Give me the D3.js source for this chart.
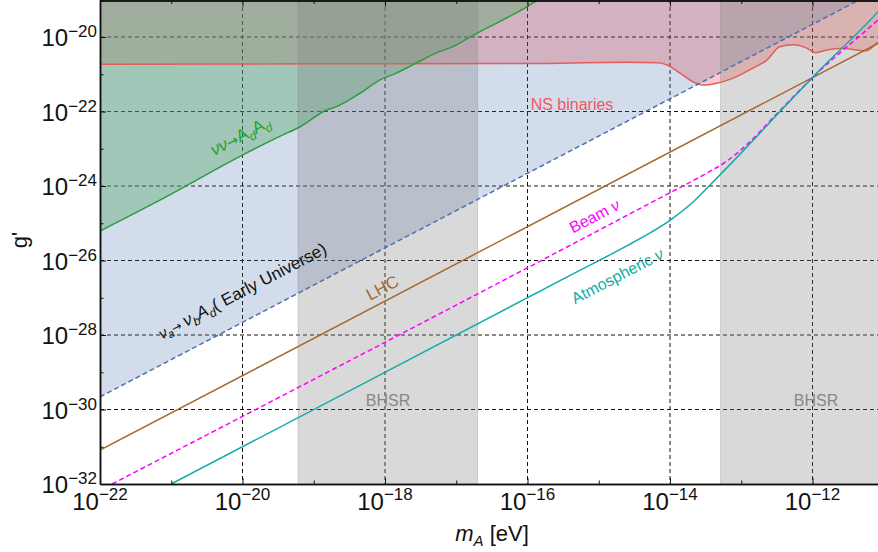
<!DOCTYPE html>
<html>
<head>
<meta charset="utf-8">
<script src="https://cdn.jsdelivr.net/npm/d3@7"></script>
<style>
body { margin: 0; background: #fff; }
text { font-family: "Liberation Sans", Arial, sans-serif; }
</style>
</head>
<body>
<svg id="chart" width="878" height="552"></svg>
<script>

// all values are log10 exponents: [log10 mA (eV), log10 g']
var nsBinaries = [[-22,-20.73],[-19,-20.72],[-16,-20.71],[-14.6,-20.68],[-14.18,-20.69],[-14.04,-20.75],[-13.86,-20.97],
	[-13.68,-21.20],[-13.54,-21.29],[-13.34,-21.24],[-13.12,-21.11],[-12.84,-20.84],[-12.64,-20.62],[-12.46,-20.26],
	[-12.27,-20.21],[-12.08,-20.30],[-11.96,-20.42],[-11.80,-20.35],[-11.57,-20.30],[-11.38,-20.35],[-11.24,-20.37],
	[-11.10,-20.17],[-11.0,-20.05]];
var earlyUniverse = [[-22,-29.66],[-11,-18.66]];
var nuNuAdAd = [[-22,-25.21],[-21.16,-24.38],[-20.0,-23.17],[-19.47,-22.66],[-19.19,-22.41],[-18.82,-21.96],
	[-18.68,-21.87],[-18.35,-21.51],[-18.07,-21.15],[-17.84,-20.97],[-17.61,-20.75],[-17.27,-20.42],[-17.05,-20.26],
	[-16.76,-19.95],[-16.62,-19.81],[-16.01,-19.19],[-15.85,-19.0],[-15.6,-18.75]];
var lhc = [[-22,-31.09],[-11,-20.09]];
var beamNu = [[-21.83,-32],[-14.19,-24.37],[-13.5,-23.67],[-13.2,-23.33],[-12.9,-22.85],[-12.5,-22.06],
	[-11.99,-21.07],[-11.08,-19.54],[-11.0,-19.4]];
var atmNu = [[-21.0,-32],[-15.26,-26.26],[-14.6,-25.6],[-14.3,-25.28],[-14.0,-24.92],[-13.7,-24.47],[-13.4,-23.9],
	[-12.92,-22.95],[-12.456,-22.0],[-11.94,-20.97],[-11.08,-19.32],[-11.0,-19.15]];
var bhsrBands = [[-19.22,-16.70],[-13.29,-11]];

var xMajor = [-22,-20,-18,-16,-14,-12];
var xMinor = [-21,-19,-17,-15,-13,-11];
var yMajor = [-32,-30,-28,-26,-24,-22,-20];
var yMinor = [-31,-29,-27,-25,-23,-21,-19];

var svg = d3.select('#chart');

var xScale = d3.scaleLog()
	.domain([1e-22,1e-11])
	.range([100,883.75]);

var yScale = d3.scaleLog()
	.domain([1e-32,1e-19])
	.range([484,-0.25]);

function px(e){ return xScale(Math.pow(10,e)); }
function py(e){ return yScale(Math.pow(10,e)); }

var plotTop = yScale(1e-19);

svg.append('defs').append('clipPath')
	.attr('id','plotclip')
	.append('rect')
	.attr('x',100).attr('y',0)
	.attr('width',783.75).attr('height',484);

var plot = svg.append('g').attr('clip-path','url(#plotclip)');

// grid
plot.selectAll('.gx')
	.data(xMajor.slice(1))
	.enter().append('line')
	.attr('x1',function(d){ return px(d)}).attr('x2',function(d){ return px(d)})
	.attr('y1',0).attr('y2',484)
	.attr('stroke','#111').attr('stroke-width',1).attr('stroke-dasharray','4,3');

plot.selectAll('.gy')
	.data(yMajor.slice(1))
	.enter().append('line')
	.attr('x1',100).attr('x2',884)
	.attr('y1',function(d){ return py(d)}).attr('y2',function(d){ return py(d)})
	.attr('stroke','#111').attr('stroke-width',1).attr('stroke-dasharray','4,3');

// excluded regions, filled above each bound
var areaAbove = d3.area()
	.x(function(d){ return px(d[0])})
	.y0(plotTop - 5)
	.y1(function(d){ return py(d[1])})
	.curve(d3.curveMonotoneX);

plot.append('path').datum(nsBinaries)
	.attr('fill','rgb(255,0,0)').attr('fill-opacity',0.22)
	.attr('d',areaAbove);

plot.append('path').datum(earlyUniverse)
	.attr('fill','#4c72b0').attr('fill-opacity',0.25)
	.attr('d',areaAbove);

plot.append('path').datum(nuNuAdAd)
	.attr('fill','#55a868').attr('fill-opacity',0.4)
	.attr('d',areaAbove);

// BHSR bands
plot.selectAll('.bhsr')
	.data(bhsrBands)
	.enter().append('rect')
	.attr('x',function(d){ return px(d[0])})
	.attr('width',function(d){ return px(d[1]) - px(d[0])})
	.attr('y',-2).attr('height',490)
	.attr('fill','gray').attr('fill-opacity',0.3)
	.attr('stroke','gray').attr('stroke-opacity',0.3).attr('stroke-width',1);

// curves
var lineGen = d3.line()
	.x(function(d){ return px(d[0])})
	.y(function(d){ return py(d[1])})
	.curve(d3.curveMonotoneX);

plot.append('path').datum(nsBinaries)
	.attr('fill','none').attr('stroke','#e35d5d').attr('stroke-width',1.5)
	.attr('d',lineGen);

plot.append('path').datum(earlyUniverse)
	.attr('fill','none').attr('stroke','#4c72b0').attr('stroke-width',1.5)
	.attr('stroke-dasharray','5,3')
	.attr('d',lineGen);

plot.append('path').datum(nuNuAdAd)
	.attr('fill','none').attr('stroke','#2a9d3f').attr('stroke-width',1.5)
	.attr('d',lineGen);

plot.append('path').datum(lhc)
	.attr('fill','none').attr('stroke','#a5692e').attr('stroke-width',1.5)
	.attr('d',lineGen);

plot.append('path').datum(beamNu)
	.attr('fill','none').attr('stroke','#ff00ff').attr('stroke-width',1.5)
	.attr('stroke-dasharray','5,3')
	.attr('d',lineGen);

plot.append('path').datum(atmNu)
	.attr('fill','none').attr('stroke','#12aba8').attr('stroke-width',1.5)
	.attr('d',lineGen);

// labels on the plot
var ang = -27.6;

function label(cx,cy,rot,color,size){
	return svg.append('text')
		.attr('transform','translate('+cx+','+cy+') rotate('+rot+')')
		.attr('text-anchor','middle')
		.attr('fill',color)
		.attr('font-size',size);
}

var t = label(243,141,ang,'#1fa31f',17);
t.append('tspan').attr('font-style','italic').text('νν');
t.append('tspan').attr('font-family','DejaVu Sans').attr('font-size',14).text('→');
t.append('tspan').text('A');
t.append('tspan').attr('font-style','italic').attr('font-size',12).attr('dy',4).text('d');
t.append('tspan').attr('dy',-4).text('A');
t.append('tspan').attr('font-style','italic').attr('font-size',12).attr('dy',4).text('d');

t = label(245,296,ang,'#111',17);
t.append('tspan').attr('font-style','italic').attr('font-size',15).text('ν');
t.append('tspan').attr('font-style','italic').attr('font-size',11).attr('dy',3).text('a');
t.append('tspan').attr('font-family','DejaVu Sans').attr('font-size',12).attr('dy',-3).text('→ ');
t.append('tspan').attr('font-style','italic').text('ν');
t.append('tspan').attr('font-style','italic').attr('font-size',12).attr('dy',4).text('b');
t.append('tspan').attr('font-style','italic').attr('dy',-4).text('A');
t.append('tspan').attr('font-style','italic').attr('font-size',12).attr('dy',4).text('d');
t.append('tspan').attr('dy',-4).text('( Early Universe)');

label(385,293,ang,'#a5692e',17).text('LHC');

t = label(597,221,ang,'#ff00ff',16);
t.append('tspan').text('Beam ');
t.append('tspan').attr('font-style','italic').text('ν');

t = label(620,281,ang,'#12aba8',16);
t.append('tspan').text('Atmospheric ');
t.append('tspan').attr('font-style','italic').text('ν');

label(572,110,0,'#f05a5a',16).text('NS binaries');
label(388,406,0,'#888',16).text('BHSR');
label(816,406,0,'#888',16).text('BHSR');

// axes, ticks pointing inward
var xMajAxis = d3.axisBottom(xScale).tickValues(xMajor.map(function(e){ return Math.pow(10,e)}))
	.tickSize(-6).tickSizeOuter(0).tickFormat('');
var xMinAxis = d3.axisBottom(xScale).tickValues(xMinor.map(function(e){ return Math.pow(10,e)}))
	.tickSize(-3.5).tickSizeOuter(0).tickFormat('');
var xMajTop = d3.axisTop(xScale).tickValues(xMajor.map(function(e){ return Math.pow(10,e)}))
	.tickSize(-6).tickSizeOuter(0).tickFormat('');
var xMinTop = d3.axisTop(xScale).tickValues(xMinor.map(function(e){ return Math.pow(10,e)}))
	.tickSize(-3.5).tickSizeOuter(0).tickFormat('');
var yMajAxis = d3.axisLeft(yScale).tickValues(yMajor.map(function(e){ return Math.pow(10,e)}))
	.tickSize(-6).tickSizeOuter(0).tickFormat('');
var yMinAxis = d3.axisLeft(yScale).tickValues(yMinor.map(function(e){ return Math.pow(10,e)}))
	.tickSize(-3.5).tickSizeOuter(0).tickFormat('');

function styleAxis(g){
	g.selectAll('path').attr('stroke','#111').attr('stroke-width',1.5);
	g.selectAll('line').attr('stroke','#111').attr('stroke-width',1);
}

svg.append('g').attr('transform','translate(0,484)').call(xMajAxis).call(styleAxis);
svg.append('g').attr('transform','translate(0,484)').call(xMinAxis).call(styleAxis);
svg.append('g').attr('transform','translate(0,0.5)').call(xMajTop).call(styleAxis);
svg.append('g').attr('transform','translate(0,0.5)').call(xMinTop).call(styleAxis);
svg.append('g').attr('transform','translate(100,0)').call(yMajAxis).call(styleAxis);
svg.append('g').attr('transform','translate(100,0)').call(yMinAxis).call(styleAxis);

// tick labels as 10^n
svg.selectAll('.xlab')
	.data(xMajor)
	.enter().append('text')
	.attr('x',function(d){ return px(d)})
	.attr('y',510)
	.attr('text-anchor','middle')
	.attr('font-size',24)
	.attr('fill','#111')
	.each(function(d){
		var s = d3.select(this);
		s.append('tspan').text('10');
		s.append('tspan').attr('dy',-10).attr('font-size',17).text('\u2212' + Math.abs(d));
	});

svg.selectAll('.ylab')
	.data(yMajor)
	.enter().append('text')
	.attr('x',97)
	.attr('y',function(d){ return py(d) + 9})
	.attr('text-anchor','end')
	.attr('font-size',24)
	.attr('fill','#111')
	.each(function(d){
		var s = d3.select(this);
		s.append('tspan').text('10');
		s.append('tspan').attr('dy',-9).attr('font-size',17).text('\u2212' + Math.abs(d));
	});

// axis titles
var xt = svg.append('text')
	.attr('x',492).attr('y',541)
	.attr('text-anchor','middle')
	.attr('font-size',22)
	.attr('fill','#111');
xt.append('tspan').attr('font-style','italic').text('m');
xt.append('tspan').attr('font-style','italic').attr('font-size',15).attr('dy',5).text('A');
xt.append('tspan').attr('dy',-5).text(' [eV]');

svg.append('text')
	.attr('transform','translate(27,240) rotate(-90)')
	.attr('text-anchor','middle')
	.attr('font-size',22)
	.attr('fill','#111')
	.text("g'");

</script>
</body>
</html>
